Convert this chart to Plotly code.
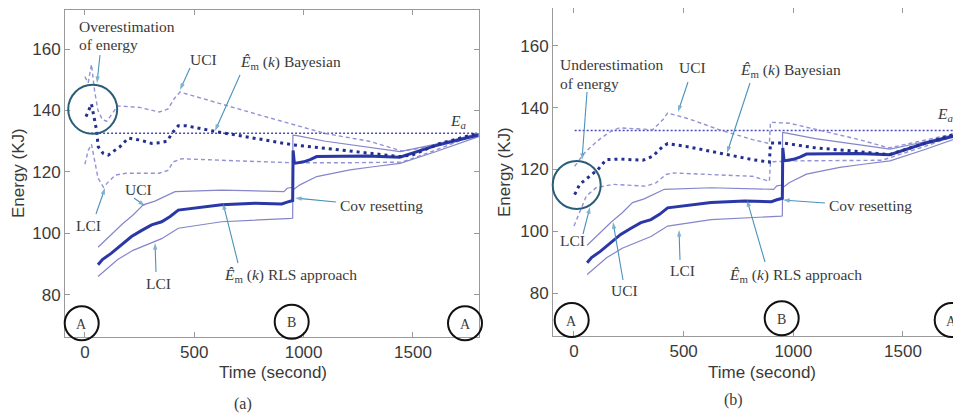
import plotly.graph_objects as go

W, H = 961, 418
OFF = 8  # page body margin offset of the rendered figure

# ---------------- data ----------------
# Actual energy E_a
ea_t = [10, 1800]
ea_v = [132.6, 132.6]

# RLS approach (same run shown in both panels)
rls_t = [60, 80, 120, 170, 213, 260, 305, 351, 390, 427, 500, 625, 778, 900, 925, 950, 952, 958, 1000, 1030, 1060, 1290, 1440, 1600, 1800]
rls_est = [89.8, 91.5, 93.5, 96.5, 99, 101, 102.8, 103.8, 105.5, 107.6, 108.3, 109.3, 109.8, 109.6, 110.2, 110.7, 127, 122.8, 123.3, 124, 125, 125.2, 124.8, 128.5, 132]
rls_uci_t = [60, 110, 170, 220, 267, 320, 412, 625, 823, 910, 925, 950, 951, 970, 1100, 1300, 1441, 1600, 1800]
rls_uci = [95.5, 99, 103, 106, 109.3, 110.5, 113.6, 114.1, 113.9, 113.6, 114.7, 115, 132, 131.8, 130, 128, 126.6, 129, 132.5]
rls_lci_t = [60, 92, 150, 220, 320, 351, 427, 625, 945, 950, 951, 983, 1060, 1212, 1318, 1441, 1600, 1800]
rls_lci = [86, 88, 91.5, 94.5, 97.3, 98.3, 101.7, 103.8, 104.9, 105, 114.1, 115.8, 118.5, 120.7, 121.7, 122.8, 126.5, 131.5]

# Bayesian, panel (a): overestimation
ba_t = [5, 23, 30, 40, 53, 61, 84, 107, 160, 198, 252, 305, 343, 375, 404, 427, 465, 602, 953, 1136, 1441, 1500, 1624, 1800]
ba_est = [138, 141.2, 142.1, 138.5, 133.7, 128.2, 126, 125.5, 128.2, 131, 130.4, 129.3, 129.5, 130, 133.1, 135, 135, 133.1, 128.8, 127.4, 125, 125.6, 129.3, 132.6]
ba_uci_t = [0, 15, 30, 45, 60, 80, 100, 125, 150, 250, 340, 380, 410, 435, 600, 800, 1000, 1100, 1300, 1450, 1600, 1800]
ba_uci = [151, 149, 155, 146, 140, 137, 136.5, 139, 141.5, 141, 139.5, 140.5, 144, 146, 142.5, 138.5, 134.5, 132.5, 130, 126.8, 128.5, 132.5]
ba_lci_t = [0, 15, 30, 45, 60, 85, 110, 140, 190, 340, 380, 404, 442, 700, 950, 1200, 1450, 1600, 1800]
ba_lci = [122.5, 127, 129, 124, 118, 115, 117, 119, 119.6, 119.6, 120.5, 123.3, 124.3, 123.6, 123, 123, 123.2, 127, 132.5]

# Bayesian, panel (b): underestimation
bb_t = [3, 26, 71, 109, 147, 208, 314, 359, 405, 427, 510, 692, 814, 891, 896, 951, 1103, 1285, 1436, 1600, 1755, 1800]
bb_est = [111.9, 115.2, 117.8, 120, 123.2, 123.4, 123, 124.3, 127.5, 128.4, 127.5, 124.8, 123.2, 122.4, 128.6, 128.6, 127, 125.9, 124.8, 128.5, 131.8, 132.4]
bb_uci_t = [3, 41, 71, 120, 170, 208, 359, 405, 427, 520, 662, 814, 891, 896, 982, 1103, 1300, 1436, 1600, 1800]
bb_uci = [121, 124.8, 127, 130, 132.4, 133.5, 132.9, 136.1, 138.3, 136.5, 132.9, 129.7, 128.4, 135.3, 135, 132.9, 129.7, 127, 129.5, 132.6]
bb_lci_t = [0, 18, 56, 101, 177, 329, 374, 420, 450, 814, 891, 896, 1000, 1404, 1600, 1800]
bb_lci = [101.7, 105, 111.4, 114.1, 115.2, 114.6, 115.7, 118.4, 118.9, 117.8, 116.2, 122.5, 122.8, 123, 127.5, 132.5]

x_ticks = [0, 500, 1000, 1500]
y_ticks = [80, 100, 120, 140, 160]

# ---------------- styles ----------------
C_BEST = "#232f90"
C_BCI = "#9292d6"
C_REST = "#2a37a6"
C_RCI = "#8585cc"
C_EA = "#4b4bb8"
C_ARROW = "#4a92ba"
C_TEXT = "#3a3a3a"
SERIF = "Liberation Serif"
SANS = "Liberation Sans"

fig = go.Figure()


def PX(px):
    return (px - OFF) / W


def PY(py):
    return 1 - (py - OFF) / H


def clamp(v):
    return max(0.0, min(1.0, v))


def add_panel(xa, ya, b_t, b_est, bu_t, bu, bl_t, bl, ea_start):
    kw = dict(xaxis=xa, yaxis=ya, mode="lines", showlegend=False, hoverinfo="skip")
    fig.add_trace(go.Scatter(x=[ea_start, ea_t[1]], y=ea_v, line=dict(color=C_EA, width=1.5, dash="2px,2px"), **kw))
    fig.add_trace(go.Scatter(x=bu_t, y=bu, line=dict(color=C_BCI, width=1.4, dash="4px,3px"), **kw))
    fig.add_trace(go.Scatter(x=bl_t, y=bl, line=dict(color=C_BCI, width=1.4, dash="4px,3px"), **kw))
    fig.add_trace(go.Scatter(x=rls_uci_t, y=rls_uci, line=dict(color=C_RCI, width=1.2), **kw))
    fig.add_trace(go.Scatter(x=rls_lci_t, y=rls_lci, line=dict(color=C_RCI, width=1.2), **kw))
    fig.add_trace(go.Scatter(x=rls_t, y=rls_est, line=dict(color=C_REST, width=3), **kw))
    fig.add_trace(go.Scatter(x=b_t, y=b_est, line=dict(color=C_BEST, width=3, dash="3px,4px"), **kw))


add_panel("x", "y", ba_t, ba_est, ba_uci_t, ba_uci, ba_lci_t, ba_lci, ea_t[0])
add_panel("x2", "y2", bb_t, bb_est, bb_uci_t, bb_uci, bb_lci_t, bb_lci, 3)

axis_common = dict(
    showgrid=False, zeroline=False, showline=True, linecolor="#9a9a9a", linewidth=1,
    ticks="inside", ticklen=5, tickcolor="#9a9a9a",
    tickfont=dict(family=SANS, size=17, color=C_TEXT),
)

fig.update_layout(
    width=W, height=H,
    margin=dict(l=0, r=0, t=0, b=0),
    paper_bgcolor="white", plot_bgcolor="rgba(0,0,0,0)",
    xaxis=dict(domain=[clamp(PX(65)), clamp(PX(479))], range=[-91, 1802], tickvals=x_ticks, mirror="ticks", anchor="y", **axis_common),
    yaxis=dict(domain=[clamp(PY(337)), clamp(PY(10))], range=[66.3, 172.7], tickvals=y_ticks, mirror="ticks", anchor="x", **axis_common),
    xaxis2=dict(domain=[clamp(PX(553)), clamp(PX(961))], range=[-95.7, 1764.6], tickvals=x_ticks, mirror="ticks", anchor="y2", **axis_common),
    yaxis2=dict(domain=[clamp(PY(336)), clamp(PY(8))], range=[66.1, 172.3], tickvals=y_ticks, mirror=False, anchor="x2", **axis_common),
    # invisible overlay in page pixels, used for the pointer arrows
    xaxis3=dict(domain=[0, 1], range=[OFF, OFF + W], visible=False, anchor="y3", fixedrange=True),
    yaxis3=dict(domain=[0, 1], range=[OFF + H, OFF], visible=False, anchor="x3", fixedrange=True),
)

ann = []


def text(s, px, py, xanchor="left", size=15.5, family=SERIF, angle=0):
    ann.append(dict(text=s, x=PX(px), y=PY(py), xref="paper", yref="paper", showarrow=False,
                    xanchor=xanchor, yanchor="middle", textangle=angle,
                    font=dict(family=family, size=size, color=C_TEXT)))


def arrow(tx, ty, hx, hy):
    fig.add_trace(go.Scatter(
        x=[tx, hx], y=[ty, hy], xaxis="x3", yaxis="y3", mode="lines+markers",
        line=dict(color=C_ARROW, width=1.1),
        marker=dict(symbol=["circle", "arrow"], size=[0.1, 7], angleref="previous",
                    color=C_ARROW, line=dict(width=0)),
        showlegend=False, hoverinfo="skip", cliponaxis=False))


BAYES = "<i>Ê</i><sub>m</sub> (<i>k</i>) Bayesian"
RLS = "<i>Ê</i><sub>m</sub> (<i>k</i>) RLS approach"
EA = "<i>E<sub>a</sub></i>"

# panel (a)
text("Overestimation", 77, 27)
text("of energy", 77, 45)
text("UCI", 203, 60, "center")
text(BAYES, 238, 63)
text(EA, 448, 121)
text("UCI", 138, 190, "center")
text("LCI", 88, 225, "center")
text("LCI", 158, 283, "center")
text(RLS, 222, 275)
text("Cov resetting", 338, 206)
arrow(100, 55, 97, 83)
arrow(190, 68, 180, 90)
arrow(240, 75, 215, 131)
arrow(134, 198, 145, 206)
arrow(96, 214, 105, 188)
arrow(156, 272, 155, 243)
arrow(238, 263, 223, 203)
arrow(336, 202, 295, 198)

# panel (b)
text("Underestimation", 558, 65)
text("of energy", 558, 83)
text("UCI", 692, 68, "center")
text(BAYES, 738, 70)
text(EA, 935, 114)
text("LCI", 572, 240, "center")
text("UCI", 624, 290, "center")
text("LCI", 682, 270, "center")
text(RLS, 727, 275)
text("Cov resetting", 827, 205)
arrow(587, 92, 582, 160)
arrow(688, 82, 678, 112)
arrow(750, 83, 727, 153)
arrow(583, 234, 590, 207)
arrow(623, 280, 613, 222)
arrow(680, 260, 679, 230)
arrow(765, 262, 747, 200)
arrow(825, 203, 783, 200)

# axis titles and captions
text("Time (second)", 273, 372, "center", 17, SANS)
text("Time (second)", 762, 372, "center", 17, SANS)
text("Energy (KJ)", 18, 173, "center", 17, SANS, -90)
text("Energy (KJ)", 504, 172, "center", 17, SANS, -90)
text("(a)", 243, 404, "center", 16)
text("(b)", 733, 400, "center", 16)

# circles
shapes = []


def circle(cx, cy, r, color, letter=None):
    shapes.append(dict(type="circle", xref="paper", yref="paper",
                       x0=PX(cx - r), x1=PX(cx + r), y0=PY(cy + r), y1=PY(cy - r),
                       line=dict(color=color, width=2), layer="above"))
    if letter:
        text(letter, cx, cy + 1, "center", 14)


circle(92.7, 109.3, 24.5, "#2a5d78")
circle(81.7, 323.3, 17, "#111111", "A")
circle(291.7, 321.7, 17, "#111111", "B")
circle(465, 323.3, 17, "#111111", "A")
circle(576.7, 185, 24, "#2a5d78")
circle(571.7, 320, 17, "#111111", "A")
circle(781.7, 318.3, 17, "#111111", "B")
circle(951.7, 320, 17, "#111111", "A")

fig.update_layout(annotations=ann, shapes=shapes)
fig.write_html("out.html")
